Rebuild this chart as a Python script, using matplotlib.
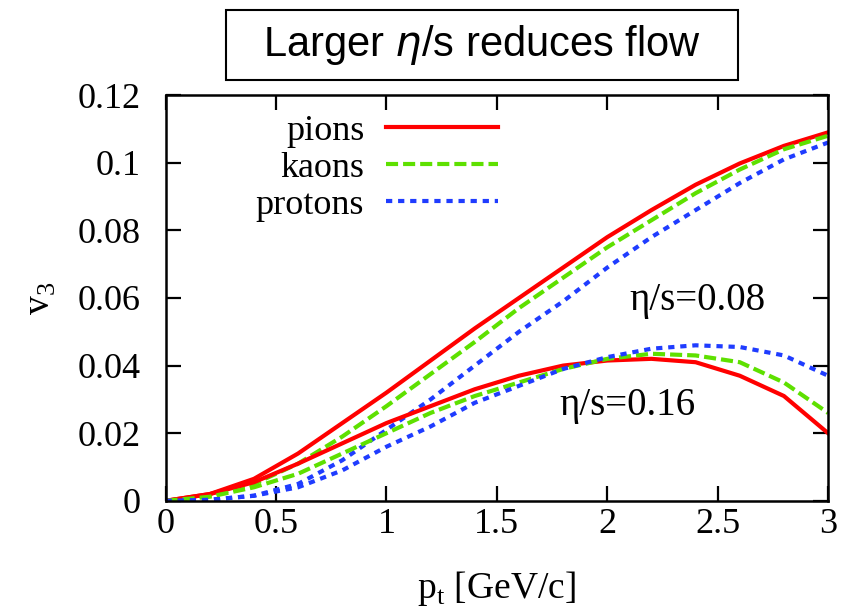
import matplotlib.pyplot as plt
from matplotlib.patches import Rectangle

pt = [0, 0.2, 0.4, 0.6, 0.8, 1.0, 1.2, 1.4, 1.6, 1.8, 2.0, 2.2, 2.4, 2.6, 2.8, 3.0]

# eta/s = 0.08
pions_008 = [0, 0.002, 0.0065, 0.014, 0.023, 0.032, 0.0415, 0.051, 0.060, 0.069, 0.078, 0.086, 0.0935, 0.0998, 0.105, 0.109]
kaons_008 = [0, 0.0015, 0.005, 0.011, 0.019, 0.028, 0.0375, 0.047, 0.057, 0.066, 0.075, 0.083, 0.091, 0.098, 0.104, 0.108]
protons_008 = [0, 0.0003, 0.0015, 0.005, 0.012, 0.021, 0.030, 0.040, 0.050, 0.059, 0.069, 0.078, 0.086, 0.094, 0.101, 0.106]

# eta/s = 0.16
pions_016 = [0, 0.002, 0.0055, 0.011, 0.017, 0.023, 0.028, 0.033, 0.037, 0.040, 0.0415, 0.042, 0.041, 0.037, 0.031, 0.020]
kaons_016 = [0, 0.0012, 0.004, 0.008, 0.014, 0.020, 0.026, 0.031, 0.035, 0.039, 0.042, 0.0435, 0.043, 0.041, 0.035, 0.026]
protons_016 = [0, 0.0003, 0.0015, 0.004, 0.009, 0.016, 0.022, 0.029, 0.034, 0.039, 0.0425, 0.045, 0.046, 0.0455, 0.043, 0.037]

xticks = [0, 0.5, 1, 1.5, 2, 2.5, 3]
yticks = [0, 0.02, 0.04, 0.06, 0.08, 0.1, 0.12]

plt.rcParams['font.family'] = ['Liberation Serif', 'DejaVu Serif']

fig = plt.figure(figsize=(8.45, 6.1), dpi=100)
ax = fig.add_axes([0.196, 0.179, 0.784, 0.665])

red = '#ff0000'
green = '#5ee000'
blue = '#1f3cff'
lw = 3
dash = (2.9, 1.2)
dot = (1.5, 1.4)

ax.plot(pt, pions_008, color=red, lw=lw, label='pions')
ax.plot(pt, kaons_008, color=green, lw=lw, dashes=dash, label='kaons')
ax.plot(pt, protons_008, color=blue, lw=lw, dashes=dot, label='protons')
ax.plot(pt, pions_016, color=red, lw=lw)
ax.plot(pt, kaons_016, color=green, lw=lw, dashes=dash)
ax.plot(pt, protons_016, color=blue, lw=lw, dashes=dot)

ax.set_xlim(0, 3)
ax.set_ylim(0, 0.12)
ax.set_xticks(xticks)
ax.set_xticklabels(['0', '0.5', '1', '1.5', '2', '2.5', '3'])
ax.set_yticks(yticks)
ax.set_yticklabels(['0', '0.02', '0.04', '0.06', '0.08', '0.1', '0.12'])
ax.tick_params(direction='in', length=11, width=1.6, labelsize=26,
               top=True, right=True)
ax.tick_params(axis='y', pad=18)
ax.tick_params(axis='x', pad=5)
for s in ax.spines.values():
    s.set_linewidth(1.8)

ax.set_xlabel(r'p$_\mathregular{t}$ [GeV/c]', fontsize=27, labelpad=20)
ax.set_ylabel(r'v$_\mathregular{3}$', fontsize=27, labelpad=14)

ax.legend(loc='upper right', bbox_to_anchor=(0.5015, 0.952), frameon=False,
          markerfirst=False, fontsize=26, handlelength=3.1,
          labelspacing=0.1, handletextpad=0.6, borderpad=0, borderaxespad=0)

ax.text(0.7, 0.495, r'η/s=0.08', fontsize=28, transform=ax.transAxes,
        ha='left', va='center')
ax.text(0.595, 0.235, r'η/s=0.16', fontsize=28, transform=ax.transAxes,
        ha='left', va='center')

# title box
fig.patches.append(Rectangle((0.2675, 0.869), 0.606, 0.1148, transform=fig.transFigure,
                             fill=False, edgecolor='black', lw=1.5))
fig.text(0.570, 0.926, r'Larger $\eta$/s reduces flow', ha='center', va='center',
         fontsize=30, family='Liberation Sans')

plt.savefig('out.png', dpi=100)
